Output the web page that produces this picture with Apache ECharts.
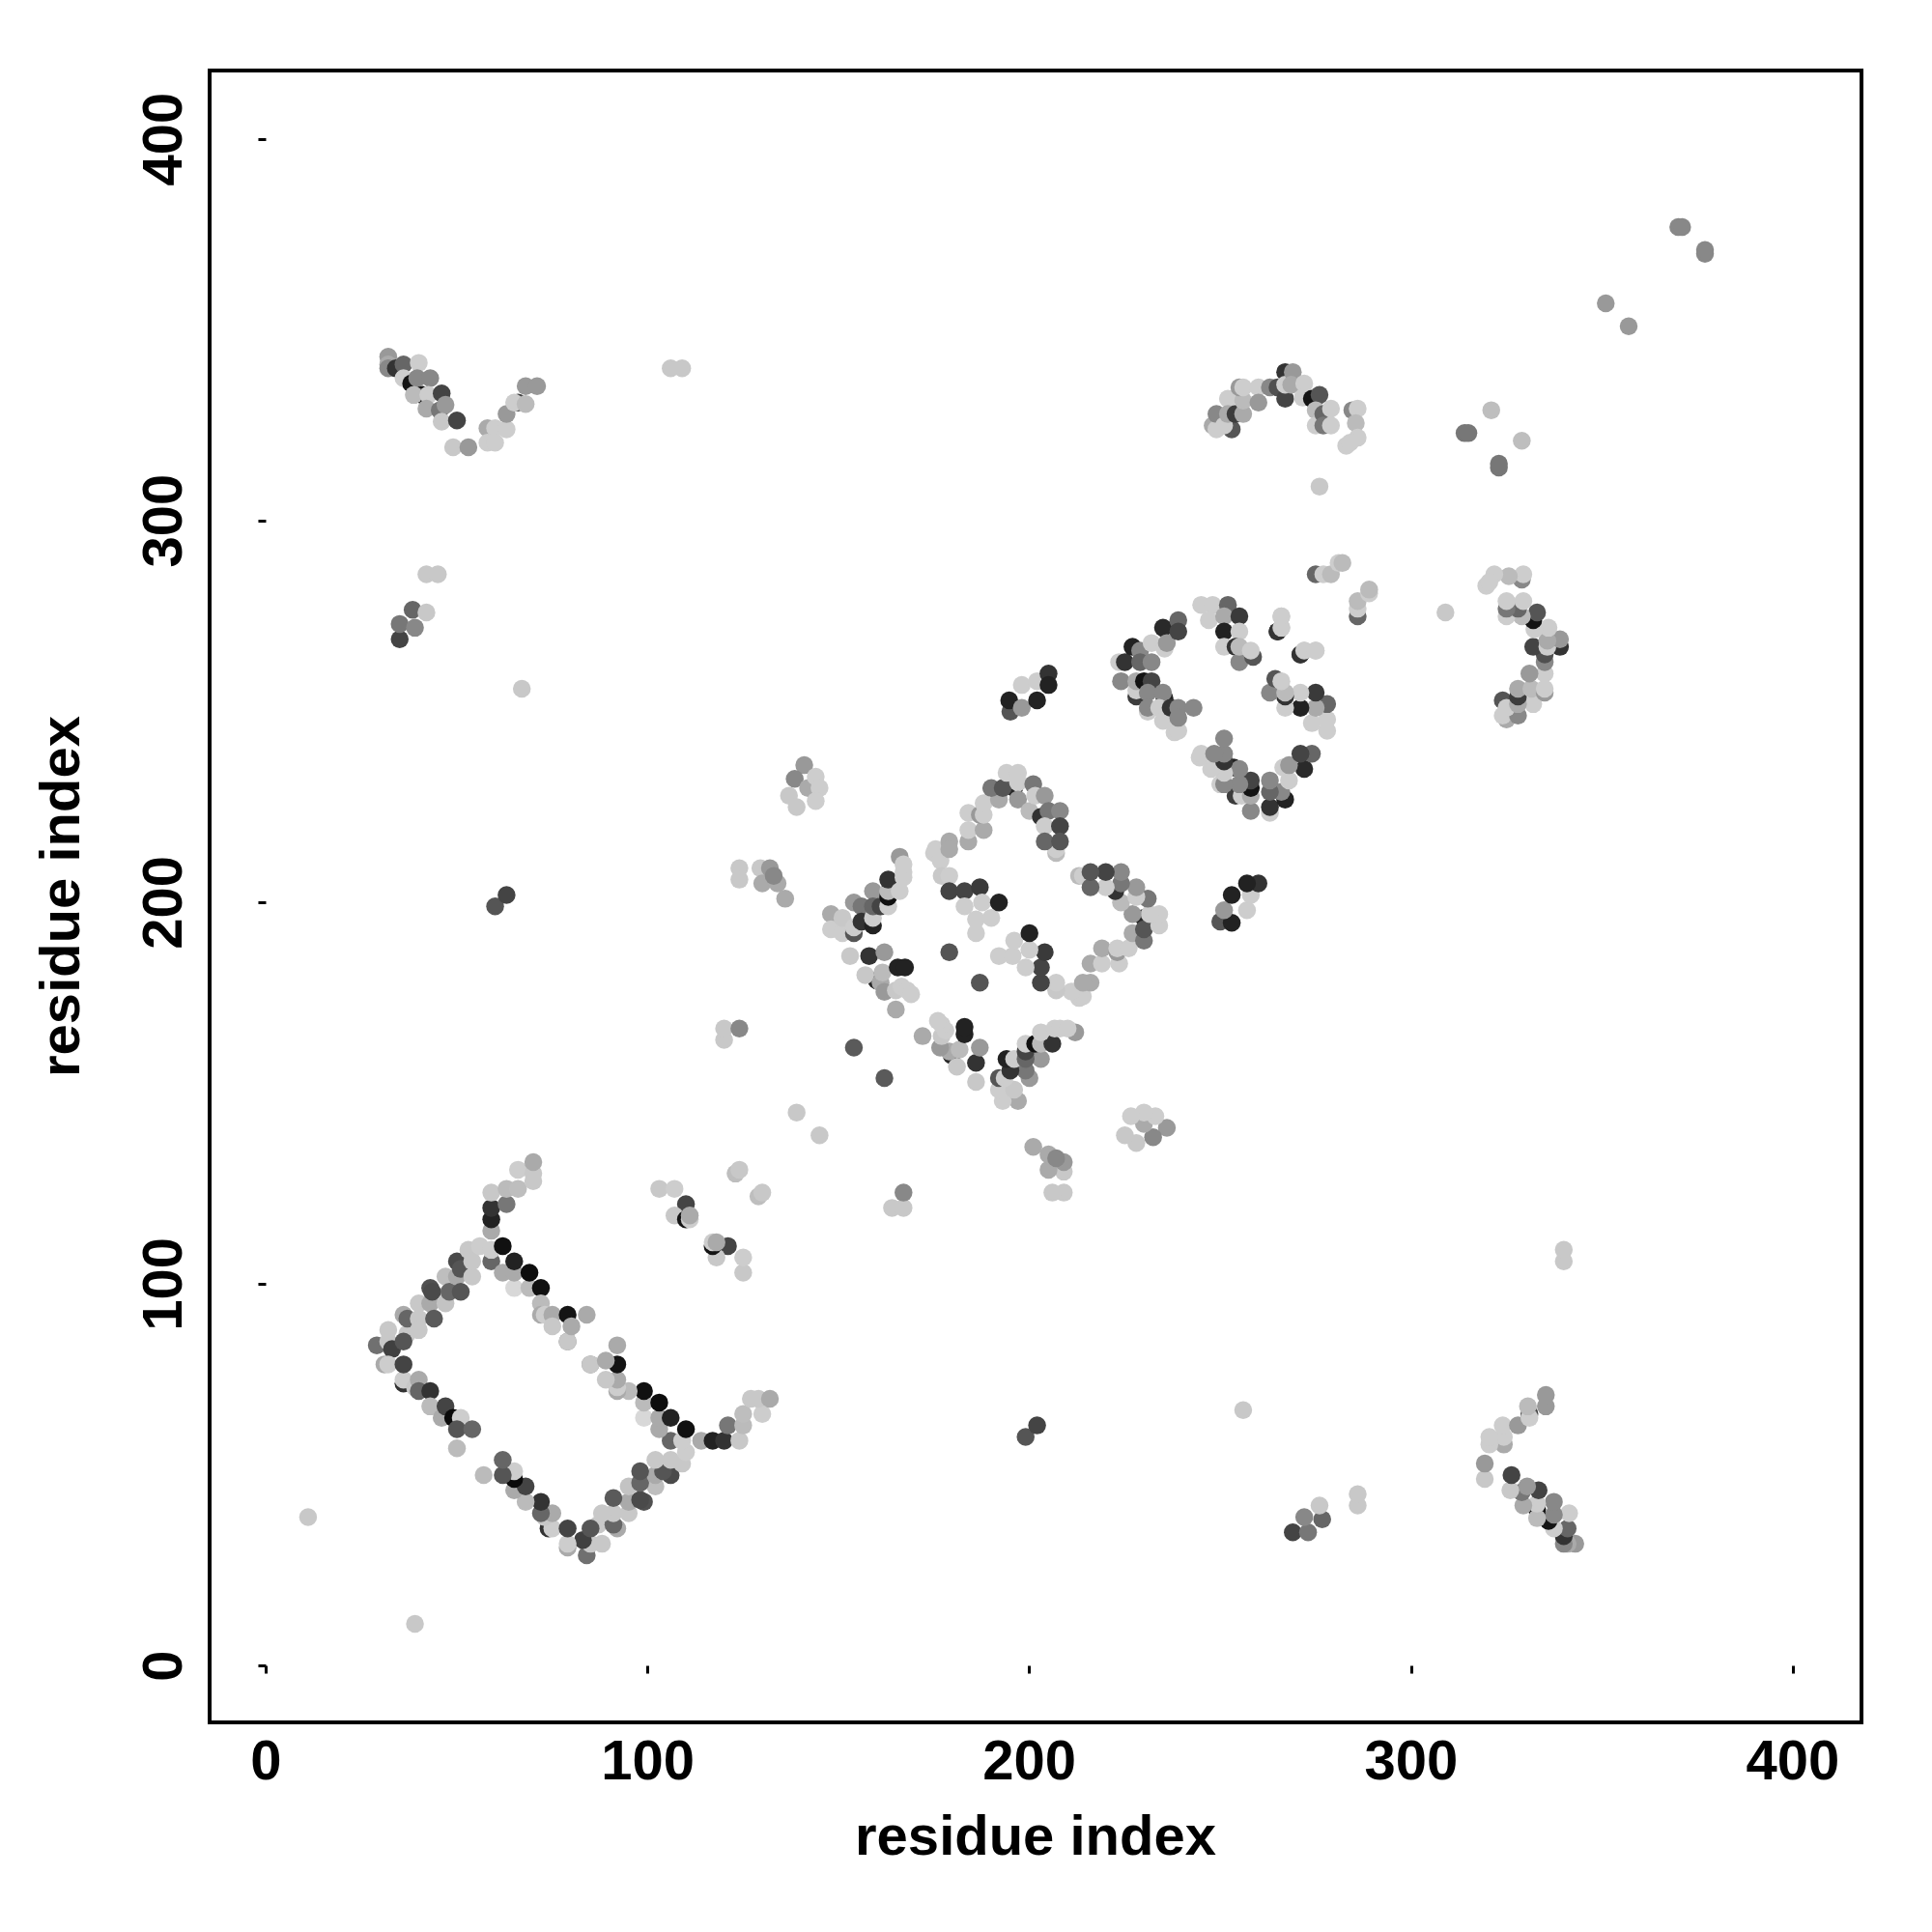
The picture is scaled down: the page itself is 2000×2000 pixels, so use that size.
<!DOCTYPE html>
<html><head><meta charset="utf-8">
<script src="https://cdn.jsdelivr.net/npm/echarts@6/dist/echarts.min.js"></script>
<style>html,body{margin:0;padding:0;background:#fff}#c{width:2000px;height:2000px}</style>
</head><body><div id="c"></div>
<script>
// residue contacts as [residue i, residue j, grey level]; the map is symmetric in i and j
const tickLabels = [0, 100, 200, 300, 400];
const axisTitle = 'residue index';
const ringCorner = [[29,84,112],[32,85,200],[32,88,200],[33,83,64],[36,92,170],[37,87,200],[36,85,85],[37,91,102],[40,95,200],[40,91,200],[40,88,200],[43,95,170],[43,99,80],[43.5,98,74],[44,91,90],[47,102,190],[47,95,195],[48,98,102],[50,102,170],[51,98,85],[50,106,74],[51,104,85],[54,102,200],[53,109,200],[54,106,200],[56,110,205],[59,106,102],[59,109,205],[59,114,170],[59,117,34],[59,120,51],[59,124,200],[63,121,119],[63,125,187],[66,125,190],[66,130,205],[70,127,200],[70,129,200],[70,132,170]];
const ringRidge = [[62,103,170],[65,99,216],[69,99,187],[65,103,170],[62,110,17],[65,106,34],[69,103,13],[72,99,17],[72,95,187],[72,92,170],[73,92,205],[75,92,170],[75,89,200],[79,85,136],[79,85,200],[79,92,20],[80,89,170],[84,92,170]];
const ringLower = [[31,79,170],[32,79,205],[36,74,50],[36,75,205],[36,79,68],[39,73,200],[40,75,170],[40,72,102],[43,72,51],[43,68,187],[46,65,170],[47,68,68],[49,65,10],[51,65,205],[50,62,85],[54,62,102],[50,57,187]];
const ringArms = [[103,125,200],[107,125,205],[110,121,68],[107,118,200],[110,117,20],[111,117,205],[111,118,170],[123,129,190],[124,130,200]];
const diamondUpperLeft = [[148,197,170],[148,193,205],[151,192,205],[151,196,200],[154,200,153],[154,192,85],[154,193.5,205],[156,199,119],[156,195,51],[159,203,153],[159,194,34],[159,196,205],[159,199,102],[161,199,68],[163,199,205],[163,201.5,17],[163,203,187],[163,206,51],[166,212,153],[166,203,205],[167,206.6,205],[167,208,205],[167,210,205]];
const diamondInner = [[153,186,200],[158,186,51],[160,179.6,40],[157,181,200],[161,179,170],[161.5,181.7,187],[162,187,153],[162,176.6,153],[165.5,183,34],[167.4,183,34],[165,177,200],[166.5,178,205],[165,172,170],[168,177,205],[169,176,205]];
const diamondTop = [[175,213,205],[175.4,214,205],[176.7,211,205],[179,216,170],[179,214,170],[177,207,200],[179,207,205],[184,216,170],[184,219,205],[184,223.5,205],[188,219,170],[187,223,153],[188,223,205],[188,226,205],[192,227,170],[190,230,119],[196,230,40],[193,230,85],[194,234,205],[197,234,205],[197,231.5,205],[197,227,153],[201,231,119],[200,224,187],[201.5,228,205],[204,228,153],[203,222.5,50],[205,224,119],[204,220,205],[208,224,136],[208,220,68],[207,213,187],[207,214,205],[204,216,102],[208,216,85]];
const diamondCentre = [[179,203,68],[183,203,68],[187,204,58],[183,199,205],[186,192,205],[186,195.6,205],[187.6,200,205],[190,196,205],[192,200,34],[179,187,85],[154,162,90]];
const pocketA = [[223.5,263,205],[225,263,51],[227,267,34],[229,266,136],[229,263,102],[232,268,205],[232,263,136],[235,272,42],[235.4,266.5,205],[236,268,153],[239,274,102],[239,271,68]];
const pocketB = [[224,258,136],[228,254,60],[228,255.6,205],[228,258,170],[230,258,20],[232,258,68],[231,255,136],[231,250,205],[231,251,136],[235.4,253.5,34],[235,255,136],[234,251,205],[235,247.6,205],[237,251,51],[238,244.6,205],[239,245,205],[239,251,136],[239,248.4,136],[243,251,136]];
const pocketC = [[245,278,205],[248,278,205],[247,274,205],[252,278,102],[251,275,170],[251,271,34],[255,275,58],[255,271,205],[251,267,205],[254,267,51],[255,263,136],[255,267,187],[258.6,264.4,85],[258,266,205],[265,271,51],[266,275,205],[266,272,205],[271,265,51],[272,266,205],[275,266,205]];
const farArc = [[248,325,170],[249,324,205],[249,328,136],[253,324,85],[251,325,205],[252,332,205],[252,328,170],[254,328,60],[256,328,170],[256,331.5,187],[255,335,153],[256,335,205],[260,335,205],[260,331,153],[263,335,136],[265,335,80],[267,332,68],[267,339,51],[267,335.7,205],[269,339,153],[268.6,335.7,170],[272,336,205],[271.6,332.3,205],[274,332,20],[276,333,85],[275,329,187],[275,325,205],[277,328,102],[279,329.4,205],[277,325,119],[279,325,205],[284.6,329,136],[286,329.4,205],[285.5,325.6,187],[286,321.8,205],[283,319.7,205],[284,320.5,205],[276,309,200]];
const farVee = [[32,343,153],[32,341,170],[32,340,136],[34,340,51],[36,341,102],[40,341.4,205],[36,337.4,205],[38,336,20],[39.6,337.4,136],[43,337.4,136],[41,333,20],[38.7,333,187],[42.5,333,205],[46,333.4,68],[42,329.4,170],[45.5,329,119],[47,330.4,153],[46,326,200],[50,326.3,68],[49,319.3,200],[53,319.3,153],[58,324.3,170],[60,324.3,205],[58,320.5,205],[60,320.5,205],[63,324,205],[63,328,153],[66,331,68],[65,331,205],[68,330.6,187],[68,335.3,153],[71,335.3,153]];
const strayHigh = [[370,377,136],[371,377,136],[351,357,153],[314,323,119],[315,323,119],[321,329,190],[106,340,200],[109,340,200],[35,269,68],[35,273,119],[39,272,136],[38.4,276.7,102],[42,276,200],[42,286,200],[45,286,200],[67,256,200],[60,199,85],[63,202,68],[11,39,200],[139,145,200]];
const clusterA = [[124,209,200],[124,206,200],[129.5,209,200],[132,209,153],[130,205,170],[134,205,170],[133,207,136],[136,201,170]];
const clusterB = [[141,236,153],[138.5,232.4,136],[137,228,200],[139,225,200],[142,230,170],[144,233,205],[145,230,205],[144,226.6,205]];
const clusterC = [[195,250,85],[194.7,253,34],[198,251,153],[198,257,205],[202,258,205],[202,253,34],[205,260,51],[205,257,34]];
const clusterD = [[120,164,200],[120,167,200],[124,167,136],[275,286,102],[277,286,205],[279,286,187],[281,289,205],[282,289,187]];

const groups = [ringCorner, ringLower, ringRidge, ringArms, diamondUpperLeft, diamondInner, diamondTop, diamondCentre,
  pocketA, pocketB, pocketC, farArc, farVee, strayHigh, clusterA, clusterB, clusterC, clusterD];

const mirrored = pts => pts.flatMap(([i, j, g]) => [[i, j, g], [j, i, g]]);
const chart = echarts.init(document.getElementById('c'), null, {renderer: 'canvas'});
const font = '"Liberation Sans", Arial, sans-serif';
const axisBase = {
  type: 'value', min: -14.8, max: 418, name: axisTitle, nameLocation: 'middle',
  nameTextStyle: {fontFamily: font, fontWeight: 'bold', fontSize: 58, color: '#000'},
  splitLine: {show: false}, axisLine: {show: false},
  axisTick: {show: true, length: 8, lineStyle: {color: '#000', width: 3}, customValues: tickLabels},
};
chart.setOption({
  animation: false, backgroundColor: '#fff',
  grid: {left: 217, right: 73, top: 73, bottom: 217, show: true, borderColor: '#000', borderWidth: 4, backgroundColor: 'transparent'},
  xAxis: Object.assign({}, axisBase, {nameGap: 92,
    axisLabel: {customValues: tickLabels, margin: 14, fontFamily: font, fontWeight: 'bold', fontSize: 58, color: '#000'}}),
  yAxis: Object.assign({}, axisBase, {nameGap: 122,
    axisLabel: {customValues: tickLabels, rotate: 90, margin: 16, fontFamily: font, fontWeight: 'bold', fontSize: 58, color: '#000'}}),
  series: groups.map(g => ({
    type: 'scatter', symbol: 'circle', symbolSize: 18.5, silent: true,
    data: mirrored(g),
    itemStyle: {opacity: 1, color: p => { const v = p.data[2]; return `rgb(${v},${v},${v})`; }}
  }))
});
</script></body></html>
